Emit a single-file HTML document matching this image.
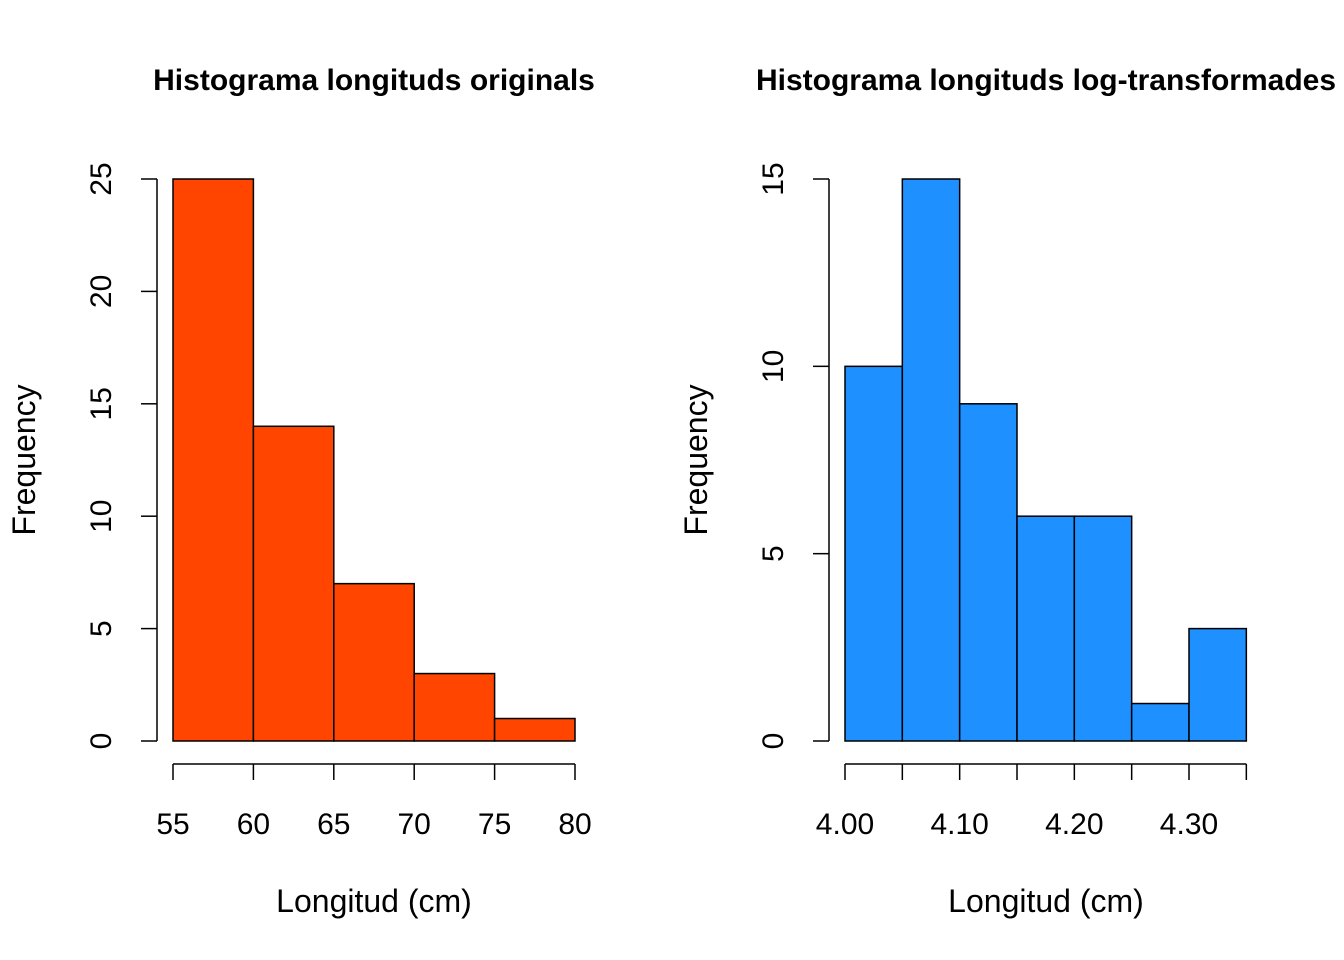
<!DOCTYPE html>
<html><head><meta charset="utf-8"><style>
html,body{margin:0;padding:0;background:#fff;width:1344px;height:960px;overflow:hidden}
svg text{font-family:"Liberation Sans",Arial,sans-serif;fill:#000}
</style></head><body>
<svg id="s" width="1344" height="960" xmlns="http://www.w3.org/2000/svg"></svg>
<script>
const leftBreaks=[55,60,65,70,75,80];
const leftCounts=[25,14,7,3,1];
const leftYTicks=[0,5,10,15,20,25];
const leftXTicks=[55,60,65,70,75,80];
const rightBreaks=[4.00,4.05,4.10,4.15,4.20,4.25,4.30,4.35];
const rightCounts=[10,15,9,6,6,1,3];
const rightYTicks=[0,5,10,15];
const rightXTicks=[4.00,4.05,4.10,4.15,4.20,4.25,4.30,4.35];
const rightXLabels=[4.00,4.10,4.20,4.30];
const NS="http://www.w3.org/2000/svg";
const svg=document.getElementById('s');
function el(tag,attrs,parent){const e=document.createElementNS(NS,tag);for(const k in attrs)e.setAttribute(k,attrs[k]);(parent||svg).appendChild(e);return e;}
function panel(o){
  const g=el('g',{});
  
  
  const x=v=>o.x0+(v-o.xmin)*(o.x1-o.x0)/(o.xmax-o.xmin);
  const y=v=>741-v*(741-179)/o.ymax;
  for(let i=0;i<o.counts.length;i++){
    const r=el('rect',{x:x(o.breaks[i]),y:y(o.counts[i]),width:x(o.breaks[i+1])-x(o.breaks[i]),height:y(0)-y(o.counts[i]),fill:o.color,stroke:'#000','stroke-width':1.5},g);
    
    
  }
  const ya=el('g',{},g);
  
  
  el('line',{x1:o.yax,x2:o.yax,y1:y(o.yticks[0]),y2:y(o.yticks[o.yticks.length-1]),stroke:'#000','stroke-width':1.5},ya);
  o.yticks.forEach(t=>{
    el('line',{x1:o.yax-16,x2:o.yax,y1:y(t),y2:y(t),stroke:'#000','stroke-width':1.5},ya);
    const tx=el('text',{x:0,y:0,'font-size':30,'text-anchor':'middle',transform:`translate(${o.yax-46},${y(t)}) rotate(-90)`},ya);
    tx.textContent=t;
  });
  const xa=el('g',{},g);
  
  
  el('line',{x1:x(o.xticks[0]),x2:x(o.xticks[o.xticks.length-1]),y1:764,y2:764,stroke:'#000','stroke-width':1.5},xa);
  o.xticks.forEach(t=>el('line',{x1:x(t),x2:x(t),y1:764,y2:780,stroke:'#000','stroke-width':1.5},xa));
  o.xlabels.forEach(t=>{const tx=el('text',{x:x(t),y:834,'font-size':30,'text-anchor':'middle'},xa);tx.textContent=o.fmt(t);});
  const xt=el('text',{x:o.cx,y:912,'font-size':32,'text-anchor':'middle'},g);
  
  
  xt.textContent='Longitud (cm)';
  const yt=el('text',{x:0,y:0,'font-size':32,'text-anchor':'middle',transform:`translate(${o.yax-122},460) rotate(-90)`},g);
  
  
  yt.textContent='Frequency';
  const ti=el('text',{x:o.cx,y:90,'font-size':30,'font-weight':'bold','text-anchor':'middle'},g);
  
  
  ti.textContent=o.title;
}
panel({name:'left-histogram',breaks:leftBreaks,counts:leftCounts,yticks:leftYTicks,xticks:leftXTicks,xlabels:leftXTicks,
  xmin:55,xmax:80,x0:173,x1:575,ymax:25,yax:157,color:'#FF4500',cx:374,fmt:v=>v,title:'Histograma longituds originals'});
panel({name:'right-histogram',breaks:rightBreaks,counts:rightCounts,yticks:rightYTicks,xticks:rightXTicks,xlabels:rightXLabels,
  xmin:4.00,xmax:4.30,x0:845,x1:1189,ymax:15,yax:829,color:'#1E90FF',cx:1046,fmt:v=>v.toFixed(2),title:'Histograma longituds log-transformades'});
</script>
</body></html>
